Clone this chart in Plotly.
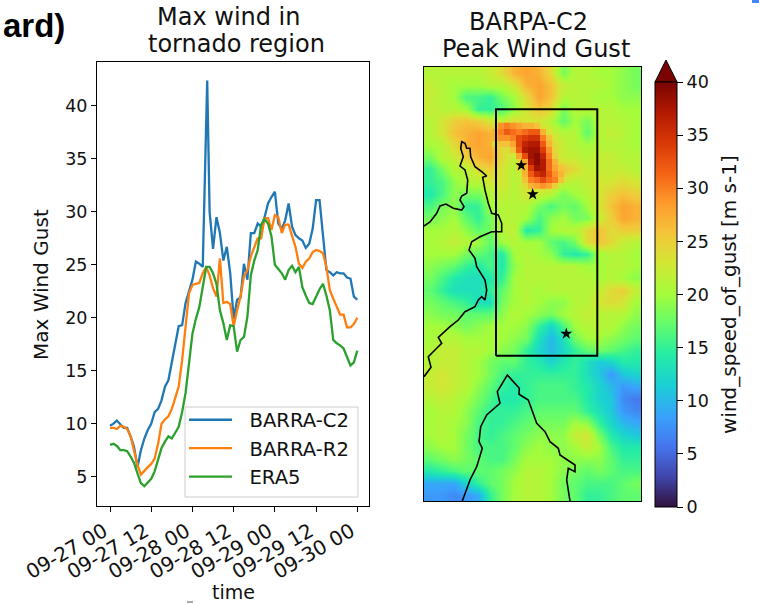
import numpy as np
import pandas as pd
import plotly.graph_objects as go

W, H = 759, 603
FONT = "DejaVu Sans"

# ---------- time series (wind gust, m/s) ----------
START = pd.Timestamp("2016-09-27 00:00")
hours = list(range(73))
hours_c2 = hours[:28] + [28.3] + hours[29:]
barra_c2 = [9.8,10.0,10.3,9.9,9.6,9.6,8.8,7.8,5.9,7.5,8.6,9.4,10.0,11.1,11.4,12.2,13.5,14.1,15.7,17.3,19.2,19.3,21.4,22.5,
            23.6,25.3,25.1,24.8,42.4,30.0,26.5,29.5,28.0,25.4,26.7,24.2,19.9,21.7,21.9,25.1,23.6,28.0,28.0,28.9,28.6,29.5,30.8,31.4,
            31.9,28.9,28.4,29.2,30.8,28.6,27.8,27.5,27.3,26.6,27.0,28.4,31.1,31.1,27.7,24.5,24.3,24.0,24.3,24.2,24.2,23.8,23.7,22.0,21.7]
barra_r2 = [9.6,9.6,9.5,9.8,9.7,9.5,8.8,7.5,6.1,5.2,5.6,5.9,6.2,6.7,8.1,10.0,10.4,10.7,11.4,12.5,13.5,16.0,19.2,22.3,
            23.1,23.2,23.3,24.2,24.8,24.0,22.8,22.0,25.6,21.4,21.5,21.3,19.2,20.7,22.0,23.9,24.5,25.8,26.7,27.5,27.5,29.4,29.4,28.3,
            29.7,29.5,28.0,28.8,28.8,27.8,26.7,25.1,24.7,25.3,25.6,26.2,26.4,26.3,26.1,24.8,22.6,21.8,21.0,20.3,20.3,19.1,19.1,19.4,20.0]
era5 = [8.0,8.1,7.9,7.5,7.5,7.4,6.9,6.3,5.3,4.4,4.1,4.5,4.8,5.5,6.6,7.7,8.3,8.8,8.6,9.1,9.7,11.1,12.9,15.7,
        18.5,19.9,21.0,22.9,24.8,24.8,24.2,23.2,20.7,19.5,17.9,19.3,19.2,16.8,17.9,18.2,20.1,24.0,25.4,26.4,28.8,29.3,28.9,27.7,
        25.0,24.6,24.2,23.6,24.5,24.9,24.3,24.8,22.9,22.1,21.4,21.3,22.0,22.7,23.2,22.1,20.7,17.9,17.6,17.4,17.1,16.2,15.5,15.8,16.9]
series_names = ["\u00a0\u00a0BARRA-C2", "\u00a0\u00a0BARRA-R2", "\u00a0\u00a0ERA5"]
series_colors = ["#1f77b4", "#ff7f0e", "#2ca02c"]

y_ticks = [5, 10, 15, 20, 25, 30, 35, 40]
time_tick_hours = [0, 12, 24, 36, 48, 60, 72]

# ---------- map field (coarse) ----------
gust_rows = [
 [21,21,21,21,21,22,24,27,28,27,24,18,21,21,20,20,19,18],
 [22,21,20,20,20,21,21,23,27,28,26,22,21,21,21,20,19,18],
 [22,21,20,16,16,15,18,20,24,28,26,21,21,21,20,20,19,19],
 [22,21,21,20,15,15,16,19,23,26,24,18,21,21,21,21,20,20],
 [21,23,25,26,25,23,22,24,23,23,21,17,20,18,21,21,21,20],
 [21,23,26,27,28,27,25,25,25,25,23,21,21,17,21,22,21,20],
 [20,21,24,27,28,27,24,24,25,25,25,22,21,20,21,21,21,20],
 [18,21,22,25,27,28,24,22,24,25,25,22,22,21,22,22,21,21],
 [15,18,21,21,24,25,23,21,24,25,25,26,24,22,22,22,22,21],
 [15,16,19,21,21,23,23,21,23,25,25,22,21,22,23,23,24,23],
 [14,16,19,18,18,21,22,21,23,22,21,18,20,21,23,25,26,25],
 [16,18,19,15,15,20,21,21,21,18,16,18,17,20,23,26,28,27],
 [18,19,20,17,15,18,21,21,20,16,19,20,18,18,22,25,28,27],
 [20,20,21,19,17,18,21,22,14,15,20,21,21,24,26,24,25,25],
 [20,21,22,21,20,17,20,21,20,20,17,16,18,24,26,24,22,21],
 [20,20,20,18,17,16,14,20,21,20,19,15,14,15,20,21,21,20],
 [19,18,17,15,14,16,14,19,21,21,21,21,21,20,20,21,21,20],
 [18,16,14,13,13,14,15,20,21,21,21,21,21,21,20,21,20,19],
 [17,15,13,13,13,15,17,20,21,20,21,21,21,21,22,24,25,22],
 [18,17,16,15,13,13,18,20,21,20,19,19,21,21,23,24,23,20],
 [19,18,18,17,17,17,19,21,20,19,18,20,21,22,21,21,21,19],
 [20,20,19,18,19,20,20,20,19,15,12,16,20,21,21,21,19,18],
 [20,21,21,20,20,20,20,19,18,13,10,13,18,20,20,19,18,17],
 [21,22,22,21,21,20,19,18,15,12,10,12,15,17,18,17,16,15],
 [21,22,22,21,20,18,17,17,15,14,12,14,15,13,11,12,14,14],
 [22,23,22,21,20,18,16,15,15,15,15,15,15,13,11,8,11,12],
 [22,23,22,21,19,17,15,14,15,16,16,16,15,14,12,10,8,9],
 [21,22,21,20,18,16,14,14,15,16,16,16,16,14,12,11,7,6],
 [20,21,21,19,17,15,15,15,16,17,17,17,17,15,13,11,8,7],
 [20,21,20,19,16,15,15,16,17,18,18,18,20,19,15,12,10,9],
 [20,21,20,18,16,15,16,17,18,19,19,19,22,23,18,14,12,11],
 [19,20,20,18,16,16,16,17,19,20,19,19,20,22,20,16,14,14],
 [17,18,19,18,17,16,16,18,20,20,20,19,19,19,19,17,15,15],
 [14,15,16,17,17,17,18,19,21,21,20,19,18,17,18,17,16,16],
 [9,9,9,12,15,17,18,20,21,21,20,18,17,16,16,16,17,18],
 [8,8,7,8,9,15,18,20,21,21,20,18,17,15,15,16,17,17],
]
# finer field around the peak gust (None = no value)
N = None
peak_rows = [
 [N,29,30,29,28,27,27,26,N,N,N,N],
 [27,30,32,31,30,31,32,32,27,N,N,N],
 [27,29,29,30,33,34,35,35,30,26,N,N],
 [24,26,26,28,33,36,37,37,32,27,N,N],
 [N,N,N,26,32,37,38,38,34,29,N,N],
 [N,N,N,N,28,33,38,39,36,30,25,N],
 [N,N,N,N,24,28,37,39,37,31,27,N],
 [N,N,N,N,24,27,34,38,37,31,28,26],
 [N,N,N,N,N,27,32,35,36,32,29,27],
 [N,N,N,N,N,26,30,31,33,31,30,26],
 [N,N,N,N,N,24,27,28,29,28,25,N],
]
colorbar_ticks = [0, 5, 10, 15, 20, 25, 30, 35, 40]

# map coordinates: km east / north of the south-west corner
coast_a_x = [0,6,12.7,16,22,29.3,37.7,40,36,37.7,42.7,43.7,41,36,39.3,36.7,37.7,41,42.7,46,46.7,51,57.7,62.7,58.7,61,64.3,67.7,74.3,77.7,77.7,67.7,56,47.7,45,51,52.7,59.3,61,62.7,61,57.7,54.3,51,41,34.3,26,14.3,17.7,12.7,4.3,7,0]
coast_a_y = [275,279,287.7,295,297,292.7,291,294.3,301,305,307.7,321,331,335,344.3,352.7,359.3,357.7,352.7,352.7,344.3,334.3,329.3,325,323.7,311,297.7,287.7,286,277.7,269.3,269.3,264.3,259.3,251,242.7,234.3,224.3,221,211,201,204.3,201,194.3,189.3,181,174.3,163.7,157.7,152.7,144.3,133.7,124.3]
coast_b_x = [38.3,46,52.7,58.3,55,56.7,62.7,76,73.3,83.3,95.3,95,104.3,112.7,121,126,134.3,136,151,151,144.3,142.7,146]
coast_b_y = [0,21,34.3,52.7,59.3,74.3,86,97.7,109.3,126,112.7,106.7,101,77.7,69.3,59.3,52.7,46,36,29.3,32.7,21,0]
region_x = [72,173.3,173.3,72,72]
region_y = [145.3,145.3,391.7,391.7,145.3]
site_x = [97.3,108.7,142.3]
site_y = [335.7,306.7,167.3]
MAP_W, MAP_H = 217, 434

fig = go.Figure()

def to_time(hs):
    return [START + pd.Timedelta(hours=float(h)) for h in hs]

for name, color, xs, ys in zip(series_names, series_colors, [hours_c2, hours, hours], [barra_c2, barra_r2, era5]):
    fig.add_trace(go.Scatter(x=to_time(xs), y=ys, mode="lines", name=name,
                             line=dict(color=color, width=2.3), xaxis="x", yaxis="y"))

base_z = np.array(gust_rows, dtype=float)[::-1]
base_x = (np.arange(18) + 0.5) * MAP_W / 18
base_y = (np.arange(36) + 0.5) * MAP_H / 36
fig.add_trace(go.Heatmap(
    z=base_z, x=base_x, y=base_y, xaxis="x2", yaxis="y2", colorscale="Turbo",
    zmin=0, zmax=40, zsmooth="best", showlegend=False, hoverinfo="skip",
    colorbar=dict(xref="container", yref="container", x=655/W, xanchor="left",
                  y=1-507/H, yanchor="bottom", lenmode="pixels", len=425, ypad=0, xpad=0,
                  thickness=22, thicknessmode="pixels", outlinecolor="black", outlinewidth=1,
                  tickmode="array", tickvals=colorbar_ticks, ticks="outside", ticklen=6,
                  tickcolor="black", tickfont=dict(family=FONT, size=17.5, color="#111"))))

peak_x = 71 + 6 * np.arange(12)
peak_y = 375.3 - 6 * np.arange(11)
fig.add_trace(go.Heatmap(z=peak_rows, x=peak_x, y=peak_y, xaxis="x2", yaxis="y2",
                         colorscale="Turbo", zmin=0, zmax=40, showscale=False,
                         hoverinfo="skip", hoverongaps=False))

for cx, cy in [(coast_a_x, coast_a_y), (coast_b_x, coast_b_y)]:
    fig.add_trace(go.Scatter(x=cx, y=cy, mode="lines", xaxis="x2", yaxis="y2", showlegend=False,
                             line=dict(color="black", width=1.6), hoverinfo="skip"))
fig.add_trace(go.Scatter(x=region_x, y=region_y, mode="lines", xaxis="x2", yaxis="y2", showlegend=False,
                         line=dict(color="black", width=2), hoverinfo="skip"))
fig.add_trace(go.Scatter(x=site_x, y=site_y, mode="markers", xaxis="x2", yaxis="y2", showlegend=False,
                         marker=dict(symbol="star", size=9, color="black"), hoverinfo="skip"))

def label(text, x, y, size=24, **kw):
    return dict(text=text, xref="paper", yref="paper", x=x/W, y=1-y/H, xanchor="center", yanchor="middle",
                showarrow=False, font=dict(family=FONT, size=size, color="#111"), **kw)

tick_times = to_time(time_tick_hours)
fig.update_layout(
    width=W, height=H, autosize=False, margin=dict(l=0, r=0, t=0, b=0, autoexpand=False),
    paper_bgcolor="white", plot_bgcolor="white",
    font=dict(family=FONT, size=18, color="#111"),
    xaxis=dict(domain=[97/W, 369/W], anchor="y", type="date",
               range=["2016-09-26 20:13", "2016-09-30 03:24"],
               tickvals=tick_times, tickformat="%m-%d %H", tickangle=-30, tickfont=dict(size=20),
               ticklabelshift=-6,
               ticks="outside", ticklen=5, tickcolor="black", automargin=False,
               showgrid=False, zeroline=False, showline=True, linecolor="black", linewidth=1, mirror=True),
    yaxis=dict(domain=[1-506/H, 1-62/H], anchor="x", range=[2.23, 44.15], automargin=False,
               tickvals=y_ticks, ticks="outside", ticklen=5, tickcolor="black", tickfont=dict(size=17.5),
               showgrid=False, zeroline=False, showline=True, linecolor="black", linewidth=1, mirror=True),
    xaxis2=dict(domain=[424/W, 641/W], anchor="y2", range=[0, MAP_W], visible=True,
                showticklabels=False, ticks="", showgrid=False, zeroline=False,
                showline=True, linecolor="black", linewidth=1, mirror=True),
    yaxis2=dict(domain=[1-501/H, 1-67/H], anchor="x2", range=[0, MAP_H],
                showticklabels=False, ticks="", showgrid=False, zeroline=False,
                showline=True, linecolor="black", linewidth=1, mirror=True),
    legend=dict(x=184/W, y=1-400.5/H, xanchor="left", yanchor="top", bgcolor="rgba(0,0,0,0)",
                borderwidth=0, itemwidth=43,
                font=dict(family=FONT, size=19.6, color="#111")),
    shapes=[
        dict(type="path", xref="paper", yref="paper", line=dict(color="black", width=1), fillcolor="#7a0403",
             path=f"M {655/W} {1-82/H} L {666/W} {1-60/H} L {677/W} {1-82/H} Z"),
        dict(type="rect", xref="paper", yref="paper", x0=752/W, x1=1, y0=1-3/H, y1=1,
             line=dict(width=0), fillcolor="#4285f4"),
        dict(type="rect", xref="paper", yref="paper", x0=185/W, x1=358/W, y0=1-497/H, y1=1-407/H, layer="above",
             line=dict(color="#cccccc", width=1), fillcolor="rgba(255,255,255,0.8)"),
        dict(type="line", xref="paper", yref="paper", x0=187/W, x1=193/W, y0=1-602/H, y1=1-602/H,
             line=dict(color="#555555", width=1)),
    ],
    annotations=[
        dict(text="ard)", xref="paper", yref="paper", x=67/W, y=1-25/H, xanchor="right", yanchor="middle",
             showarrow=False, font=dict(family="Liberation Sans", size=33, color="black", weight="bold")),
        label("Max wind in", 229, 17),
        label("tornado region", 236, 44),
        label("BARPA-C2", 528, 22),
        label("Peak Wind Gust", 536, 49),
        label("Max Wind Gust", 41, 285, size=20, textangle=-90),
        label("time", 233, 592, size=19),
        label("wind_speed_of_gust [m s-1]", 729, 295, size=20, textangle=-90),
    ],
)

# the page's default body margin would shift the picture by 8 px
fig.write_html("out.html", post_script="document.body.style.margin='0';",
               config=dict(displayModeBar=False))
